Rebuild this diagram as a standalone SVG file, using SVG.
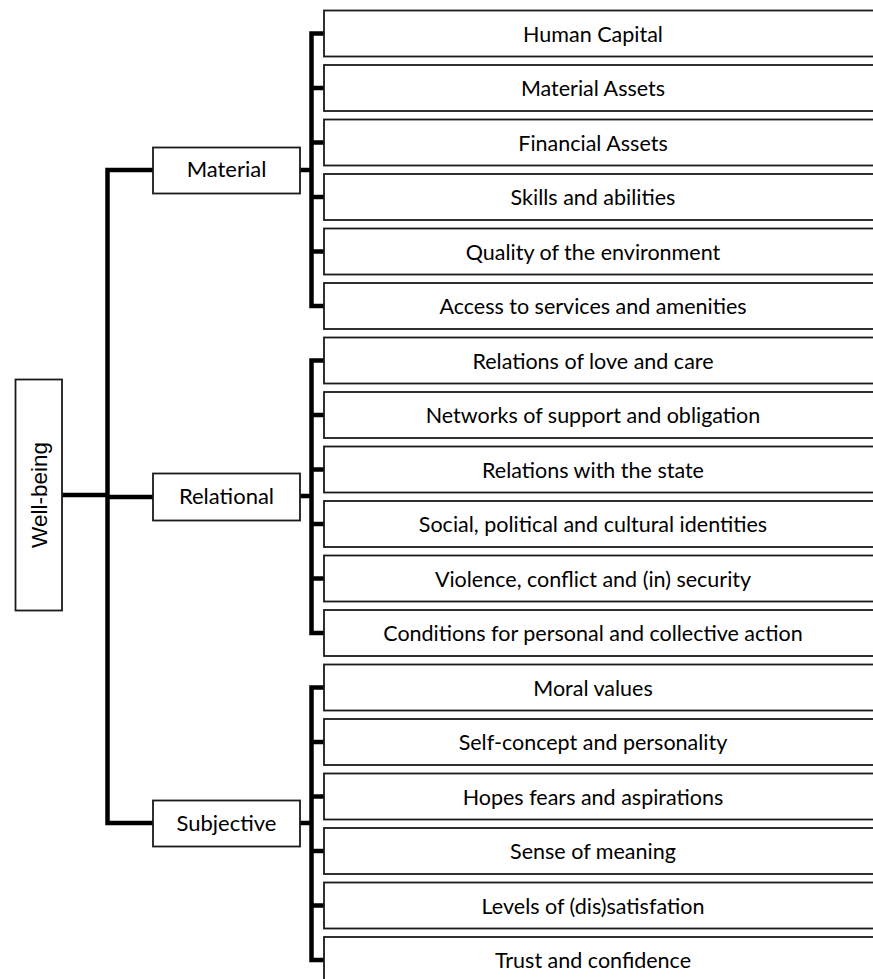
<svg xmlns="http://www.w3.org/2000/svg" width="873" height="979" viewBox="0 0 873 979">
<style>
.bx{fill:#fff;stroke:#1a1a1a;stroke-width:1.8}
.t{font-family:Lato,"Open Sans","Liberation Sans",sans-serif;font-size:21.5px;fill:#000;text-anchor:middle}
.l{font-size:22px}
.w{font-family:"Liberation Sans",Arial,sans-serif;font-size:22.5px;fill:#000;text-anchor:middle}
.c{fill:none;stroke:#000;stroke-width:4.5;stroke-linejoin:miter;stroke-linecap:butt}
</style>
<rect width="873" height="979" fill="#fff"/>
<g id="connectors">
<path class="c" d="M153,170 H107.5 V823 H153"/>
<path class="c" d="M62,495 H107.5"/>
<path class="c" d="M107.5,497 H153"/>
<path class="c" d="M300,170 H311.5"/>
<path class="c" d="M300,496 H311.5"/>
<path class="c" d="M300,823 H311.5"/>
<path class="c" d="M324,33.5 H311.5 V306 H324"/>
<path class="c" d="M311.5,88 H324 M311.5,142.5 H324 M311.5,197 H324 M311.5,251.5 H324"/>
<path class="c" d="M324,360.5 H311.5 V633 H324"/>
<path class="c" d="M311.5,415 H324 M311.5,469.5 H324 M311.5,524 H324 M311.5,578.5 H324"/>
<path class="c" d="M324,687.5 H311.5 V960 H324"/>
<path class="c" d="M311.5,742 H324 M311.5,796.5 H324 M311.5,851 H324 M311.5,905.5 H324"/>
</g>
<g id="wellbeing"><rect class="bx" x="15.5" y="379.5" width="46.5" height="231"/><text class="w" transform="translate(47,495) rotate(-90)">Well-being</text></g>
<g id="material"><rect class="bx" x="153" y="147.5" width="147" height="46"/><text class="t l" x="226.5" y="177">Material</text></g>
<g id="relational"><rect class="bx" x="153" y="473.5" width="147" height="47"/><text class="t l" x="226.5" y="504">Relational</text></g>
<g id="subjective"><rect class="bx" x="153" y="800.5" width="147" height="46"/><text class="t l" x="226.5" y="831">Subjective</text></g>
<g id="n1"><rect class="bx" x="324" y="10.5" width="560" height="46"/><text class="t" x="593" y="41.5">Human Capital</text></g>
<g id="n2"><rect class="bx" x="324" y="65" width="560" height="46"/><text class="t" x="593" y="96">Material Assets</text></g>
<g id="n3"><rect class="bx" x="324" y="119.5" width="560" height="46"/><text class="t" x="593" y="150.5">Financial Assets</text></g>
<g id="n4"><rect class="bx" x="324" y="174" width="560" height="46"/><text class="t" x="593" y="205">Skills and abilities</text></g>
<g id="n5"><rect class="bx" x="324" y="228.5" width="560" height="46"/><text class="t" x="593" y="259.5">Quality of the environment</text></g>
<g id="n6"><rect class="bx" x="324" y="283" width="560" height="46"/><text class="t" x="593" y="314">Access to services and amenities</text></g>
<g id="n7"><rect class="bx" x="324" y="337.5" width="560" height="46"/><text class="t" x="593" y="368.5">Relations of love and care</text></g>
<g id="n8"><rect class="bx" x="324" y="392" width="560" height="46"/><text class="t" x="593" y="423">Networks of support and obligation</text></g>
<g id="n9"><rect class="bx" x="324" y="446.5" width="560" height="46"/><text class="t" x="593" y="477.5">Relations with the state</text></g>
<g id="n10"><rect class="bx" x="324" y="501" width="560" height="46"/><text class="t" x="593" y="532">Social, political and cultural identities</text></g>
<g id="n11"><rect class="bx" x="324" y="555.5" width="560" height="46"/><text class="t" x="593" y="586.5">Violence, conflict and (in) security</text></g>
<g id="n12"><rect class="bx" x="324" y="610" width="560" height="46"/><text class="t" x="593" y="641">Conditions for personal and collective action</text></g>
<g id="n13"><rect class="bx" x="324" y="664.5" width="560" height="46"/><text class="t" x="593" y="695.5">Moral values</text></g>
<g id="n14"><rect class="bx" x="324" y="719" width="560" height="46"/><text class="t" x="593" y="750">Self-concept and personality</text></g>
<g id="n15"><rect class="bx" x="324" y="773.5" width="560" height="46"/><text class="t" x="593" y="804.5">Hopes fears and aspirations</text></g>
<g id="n16"><rect class="bx" x="324" y="828" width="560" height="46"/><text class="t" x="593" y="859">Sense of meaning</text></g>
<g id="n17"><rect class="bx" x="324" y="882.5" width="560" height="46"/><text class="t" x="593" y="913.5">Levels of (dis)satisfation</text></g>
<g id="n18"><rect class="bx" x="324" y="937" width="560" height="46"/><text class="t" x="593" y="968">Trust and confidence</text></g>
</svg>
